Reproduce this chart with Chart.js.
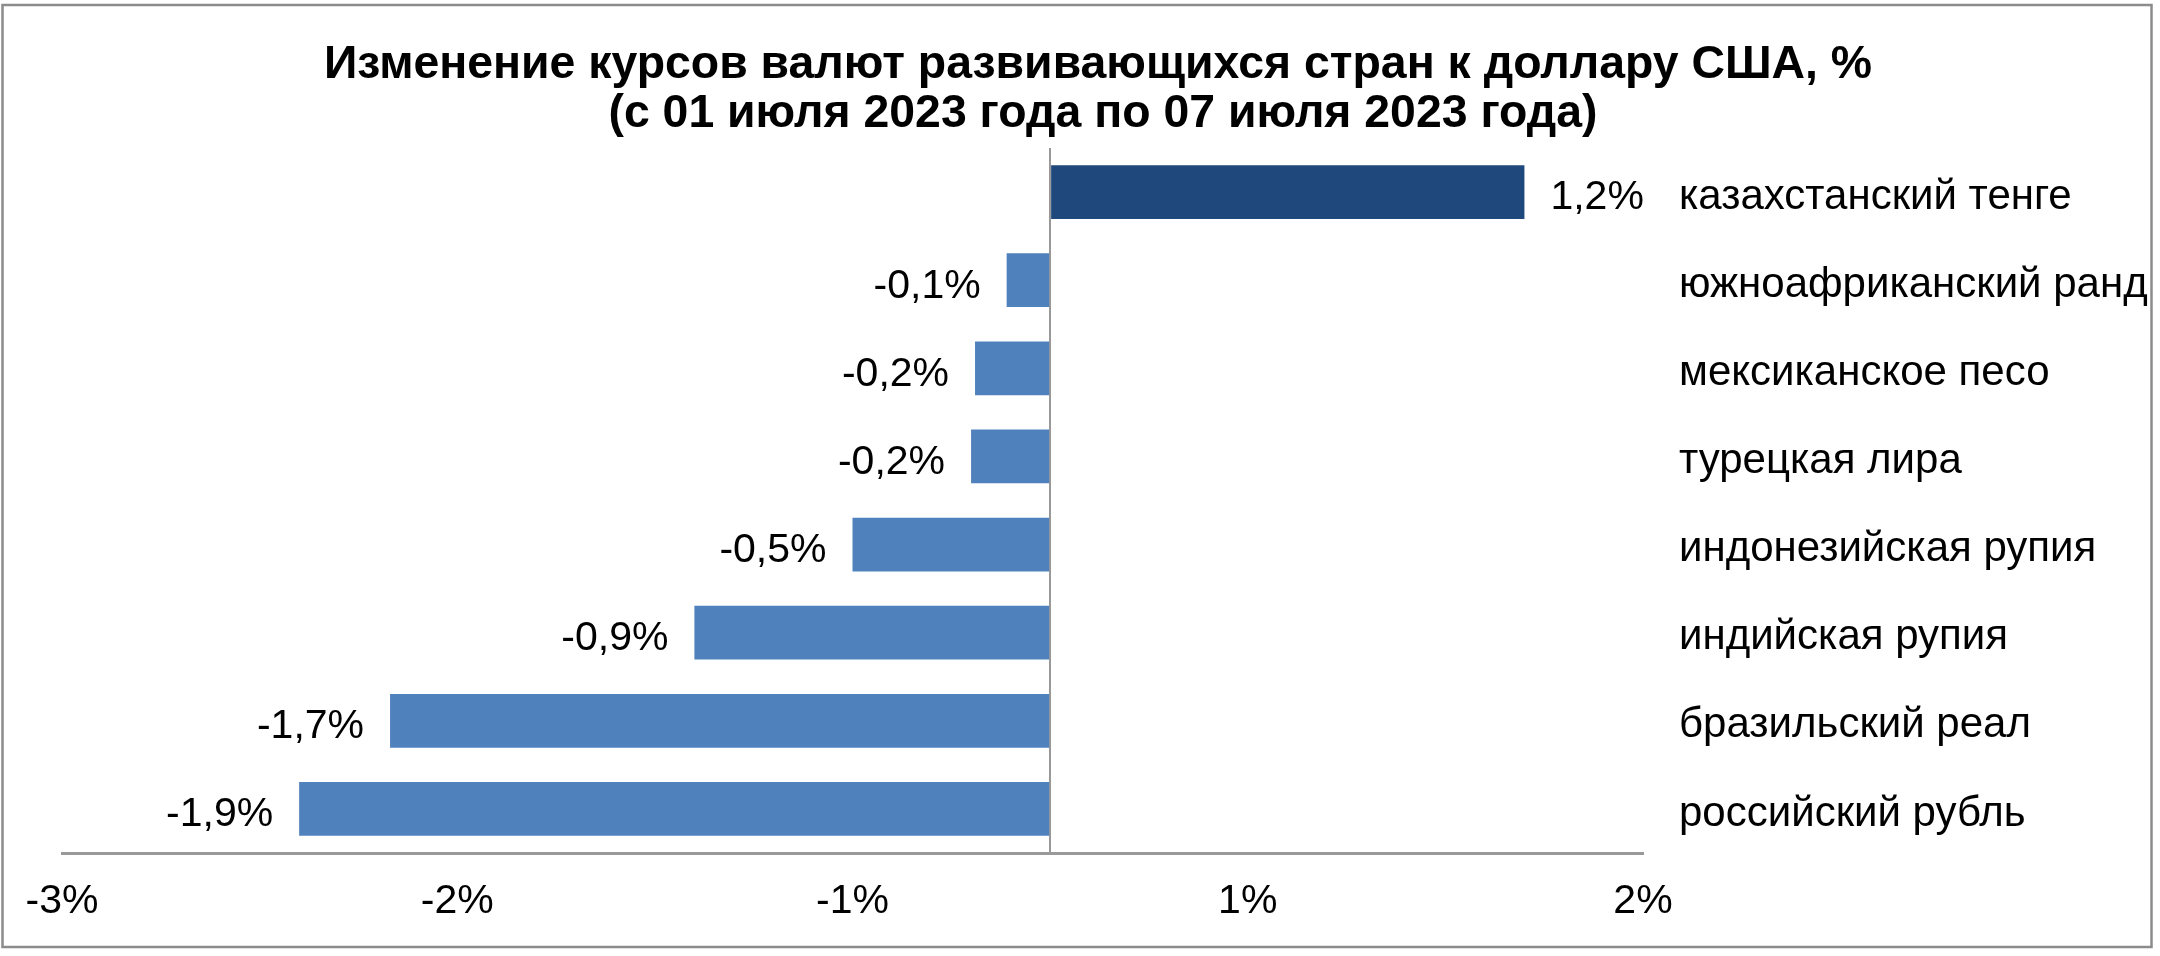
<!DOCTYPE html>
<html>
<head>
<meta charset="utf-8">
<script src="https://cdn.jsdelivr.net/npm/chart.js@4"></script>
<style>
  body { margin: 0; background: #fff; }
  #wrap { position: relative; width: 2160px; height: 956px; }
</style>
</head>
<body>
<div id="wrap"><canvas id="fxChart"></canvas></div>
<script>
const titleLines = [
  "Изменение курсов валют развивающихся стран к доллару США, %",
  "(с 01 июля 2023 года по 07 июля 2023 года)"
];
const currencies = [
  "казахстанский тенге",
  "южноафриканский ранд",
  "мексиканское песо",
  "турецкая лира",
  "индонезийская рупия",
  "индийская рупия",
  "бразильский реал",
  "российский рубль"
];
const changes = [1.2, -0.11, -0.19, -0.2, -0.5, -0.9, -1.67, -1.9];
// excel put its ticks on the half steps and rounded the labels
const tickValues = [-2.5, -1.5, -0.5, 0, 0.5, 1.5];

const FONT = "'Liberation Sans', Arial, sans-serif";

function pct(v) {
  return v.toFixed(1).replace(".", ",") + "%";
}

function tickLabel(v) {
  if (v === 0) return "";
  return (v < 0 ? "-" : "") + Math.round(Math.abs(v)) + "%";
}

const frameAndTitle = {
  id: "frameAndTitle",
  beforeDraw(chart) {
    const ctx = chart.ctx;
    ctx.save();
    ctx.fillStyle = "#fff";
    ctx.fillRect(0, 0, chart.width, chart.height);
    ctx.strokeStyle = "#8c8c8c";
    ctx.lineWidth = 2.5;
    ctx.strokeRect(2.5, 5, 2149, 942);
    ctx.restore();
  },
  afterDraw(chart) {
    const ctx = chart.ctx;
    ctx.save();
    ctx.fillStyle = "#000";
    ctx.font = "bold 46.4px " + FONT;
    ctx.textAlign = "center";
    ctx.textBaseline = "alphabetic";
    ctx.fillText(titleLines[0], 1098, 78);
    ctx.fillText(titleLines[1], 1103, 127);
    ctx.restore();
  }
};

const valueLabels = {
  id: "valueLabels",
  afterDatasetsDraw(chart) {
    const ctx = chart.ctx;
    const meta = chart.getDatasetMeta(0);
    ctx.save();
    ctx.font = "41px " + FONT;
    ctx.fillStyle = "#000";
    ctx.textBaseline = "middle";
    meta.data.forEach((bar, i) => {
      const v = changes[i];
      if (v >= 0) {
        ctx.textAlign = "left";
        ctx.fillText(pct(v), bar.x + 26, bar.y + 6);
      } else {
        ctx.textAlign = "right";
        ctx.fillText(pct(v), bar.x - 26, bar.y + 6);
      }
    });
    ctx.restore();
  }
};

const ctx = document.getElementById("fxChart").getContext("2d");
new Chart(ctx, {
  type: "bar",
  data: {
    labels: currencies,
    datasets: [{
      data: changes,
      backgroundColor: changes.map(v => v >= 0 ? "#1f497d" : "#4f81bd"),
      borderWidth: 0,
      categoryPercentage: 1,
      barPercentage: 0.61
    }]
  },
  options: {
    indexAxis: "y",
    responsive: true,
    maintainAspectRatio: false,
    devicePixelRatio: 1,
    animation: false,
    layout: { padding: { top: 148, left: 62, right: 0, bottom: 0 } },
    plugins: {
      legend: { display: false },
      title: { display: false },
      tooltip: { enabled: false }
    },
    scales: {
      x: {
        min: -2.5,
        max: 1.5,
        afterBuildTicks(scale) {
          scale.ticks = tickValues.map(v => ({ value: v }));
        },
        afterFit(scale) { scale.height = 956 - 853; },
        ticks: {
          callback: v => tickLabel(v),
          color: "#000",
          font: { family: FONT, size: 41 },
          padding: 24,
          maxRotation: 0,
          autoSkip: false
        },
        grid: {
          drawTicks: false,
          color: c => c.tick && c.tick.value === 0 ? "#999" : "rgba(0,0,0,0)",
          lineWidth: 2
        },
        border: { display: true, color: "#999", width: 3 }
      },
      y: {
        position: "right",
        afterFit(scale) { scale.width = 2160 - 1643; },
        ticks: {
          color: "#000",
          font: { family: FONT, size: 42 },
          padding: 36,
          labelOffset: 5,
          crossAlign: "near"
        },
        grid: { display: false, drawTicks: false },
        border: { display: false }
      }
    }
  },
  plugins: [frameAndTitle, valueLabels]
});
</script>
</body>
</html>
